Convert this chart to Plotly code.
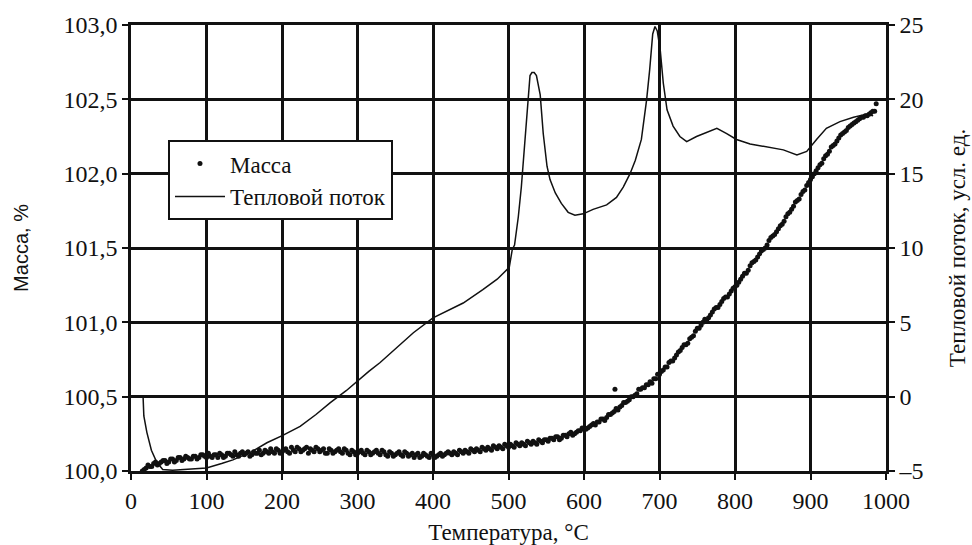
import plotly.graph_objects as go

# Thermogravimetry: mass change (scatter) and heat flow (line) vs temperature

# Mass readings, first pass
temp_mass = [
    15, 20, 25, 30, 35, 40, 45, 50, 55, 60, 65, 70, 75, 80, 85, 90, 95, 100,
    105, 110, 115, 120, 125, 130, 135, 140, 145, 150, 155, 160, 165, 170, 175, 180,
    185, 190, 195, 200, 205, 210, 215, 220, 225, 230, 235, 240, 245, 250, 255, 260,
    265, 270, 275, 280, 285, 290, 295, 300, 305, 310, 315, 320, 325, 330, 335, 340,
    345, 350, 355, 360, 365, 370, 375, 380, 385, 390, 395, 400, 405, 410, 415, 420,
    425, 430, 435, 440, 445, 450, 455, 460, 465, 470, 475, 480, 485, 490, 495, 500,
    505, 510, 515, 520, 525, 530, 535, 540, 545, 550, 555, 560, 565, 570, 575, 580,
    585, 590, 595, 600, 605, 610, 615, 620, 625, 630, 635, 640, 645, 650, 655, 660,
    665, 670, 675, 680, 685, 690, 695, 700, 705, 710, 715, 720, 725, 730, 735, 740,
    745, 750, 755, 760, 765, 770, 775, 780, 785, 790, 795, 800, 805, 810, 815, 820,
    825, 830, 835, 840, 845, 850, 855, 860, 865, 870, 875, 880, 885, 890, 895, 900,
    905, 910, 915, 920, 925, 930, 935, 940, 945, 950, 955, 960, 965, 970, 975, 980,
    985, 641, 987,
]
mass = [
    100.00, 100.02, 100.03, 100.05, 100.04, 100.06, 100.07, 100.06, 100.08, 100.07,
    100.09, 100.08, 100.09, 100.08, 100.10, 100.09, 100.11, 100.09, 100.10, 100.11,
    100.09, 100.11, 100.10, 100.12, 100.10, 100.11, 100.12, 100.11, 100.13, 100.11,
    100.12, 100.14, 100.12, 100.13, 100.15, 100.12, 100.14, 100.13, 100.15, 100.12,
    100.14, 100.16, 100.13, 100.15, 100.12, 100.14, 100.16, 100.13, 100.15, 100.12,
    100.14, 100.13, 100.15, 100.12, 100.14, 100.11, 100.13, 100.12, 100.14, 100.11,
    100.13, 100.12, 100.14, 100.11, 100.13, 100.10, 100.12, 100.11, 100.13, 100.10,
    100.12, 100.11, 100.09, 100.12, 100.10, 100.11, 100.09, 100.11, 100.10, 100.12,
    100.11, 100.13, 100.11, 100.12, 100.14, 100.12, 100.13, 100.15, 100.13, 100.14,
    100.16, 100.14, 100.15, 100.17, 100.15, 100.16, 100.18, 100.16, 100.17, 100.19,
    100.17, 100.18, 100.20, 100.18, 100.19, 100.21, 100.19, 100.21, 100.22, 100.21,
    100.23, 100.22, 100.24, 100.25, 100.24, 100.26, 100.27, 100.28, 100.29, 100.31,
    100.31, 100.33, 100.35, 100.36, 100.38, 100.40, 100.41, 100.44, 100.46, 100.48,
    100.50, 100.52, 100.55, 100.56, 100.58, 100.59, 100.62, 100.65, 100.68, 100.70,
    100.74, 100.76, 100.80, 100.83, 100.85, 100.89, 100.91, 100.96, 100.98, 101.02,
    101.03, 101.07, 101.10, 101.12, 101.16, 101.17, 101.21, 101.24, 101.27, 101.31,
    101.33, 101.38, 101.41, 101.44, 101.48, 101.50, 101.55, 101.58, 101.61, 101.65,
    101.68, 101.73, 101.76, 101.81, 101.83, 101.88, 101.92, 101.96, 102.00, 102.04,
    102.07, 102.12, 102.15, 102.19, 102.22, 102.26, 102.28, 102.31, 102.33, 102.35,
    102.37, 102.38, 102.39, 102.41, 102.42, 100.55, 102.47,
]

# Mass readings, second pass (between the first-pass temperatures)
temp_mass_b = [
    17.5, 22.5, 27.5, 32.5, 37.5, 42.5, 47.5, 52.5, 57.5, 62.5,
    67.5, 72.5, 77.5, 82.5, 87.5, 92.5, 97.5, 102.5, 107.5, 112.5,
    117.5, 122.5, 127.5, 132.5, 137.5, 142.5, 147.5, 152.5, 157.5, 162.5,
    167.5, 172.5, 177.5, 182.5, 187.5, 192.5, 197.5, 202.5, 207.5, 212.5,
    217.5, 222.5, 227.5, 232.5, 237.5, 242.5, 247.5, 252.5, 257.5, 262.5,
    267.5, 272.5, 277.5, 282.5, 287.5, 292.5, 297.5, 302.5, 307.5, 312.5,
    317.5, 322.5, 327.5, 332.5, 337.5, 342.5, 347.5, 352.5, 357.5, 362.5,
    367.5, 372.5, 377.5, 382.5, 387.5, 392.5, 397.5, 402.5, 407.5, 412.5,
    417.5, 422.5, 427.5, 432.5, 437.5, 442.5, 447.5, 452.5, 457.5, 462.5,
    467.5, 472.5, 477.5, 482.5, 487.5, 492.5, 497.5, 502.5, 507.5, 512.5,
    517.5, 522.5, 527.5, 532.5, 537.5, 542.5, 547.5, 552.5, 557.5, 562.5,
    567.5, 572.5, 577.5, 582.5, 587.5, 592.5, 597.5, 602.5, 607.5, 612.5,
    617.5, 622.5, 627.5, 632.5, 637.5, 642.5, 647.5, 652.5, 657.5, 662.5,
    667.5, 672.5, 677.5, 682.5, 687.5, 692.5, 697.5, 702.5, 707.5, 712.5,
    717.5, 722.5, 727.5, 732.5, 737.5, 742.5, 747.5, 752.5, 757.5, 762.5,
    767.5, 772.5, 777.5, 782.5, 787.5, 792.5, 797.5, 802.5, 807.5, 812.5,
    817.5, 822.5, 827.5, 832.5, 837.5, 842.5, 847.5, 852.5, 857.5, 862.5,
    867.5, 872.5, 877.5, 882.5, 887.5, 892.5, 897.5, 902.5, 907.5, 912.5,
    917.5, 922.5, 927.5, 932.5, 937.5, 942.5, 947.5, 952.5, 957.5, 962.5,
    967.5, 972.5, 977.5, 982.5,
]
mass_b = [
    100.01, 100.04, 100.03, 100.06, 100.05, 100.07, 100.05, 100.08, 100.06, 100.09,
    100.07, 100.10, 100.08, 100.10, 100.08, 100.11, 100.10, 100.12, 100.09, 100.11,
    100.12, 100.09, 100.12, 100.11, 100.13, 100.10, 100.13, 100.12, 100.10, 100.13,
    100.12, 100.11, 100.14, 100.12, 100.13, 100.15, 100.12, 100.14, 100.13, 100.16,
    100.13, 100.15, 100.14, 100.16, 100.15, 100.13, 100.15, 100.14, 100.12, 100.15,
    100.12, 100.14, 100.13, 100.15, 100.12, 100.14, 100.11, 100.13, 100.12, 100.14,
    100.11, 100.13, 100.12, 100.14, 100.11, 100.13, 100.10, 100.12, 100.11, 100.13,
    100.10, 100.12, 100.11, 100.09, 100.12, 100.10, 100.12, 100.09, 100.11, 100.10,
    100.12, 100.12, 100.13, 100.11, 100.13, 100.14, 100.12, 100.14, 100.15, 100.13,
    100.15, 100.16, 100.14, 100.16, 100.17, 100.15, 100.17, 100.18, 100.16, 100.18,
    100.19, 100.17, 100.19, 100.20, 100.18, 100.20, 100.21, 100.20, 100.22, 100.23,
    100.21, 100.24, 100.23, 100.26, 100.25, 100.27, 100.29, 100.28, 100.30, 100.32,
    100.33, 100.35, 100.34, 100.38, 100.39, 100.42, 100.43, 100.46, 100.47, 100.50,
    100.51, 100.55, 100.56, 100.58, 100.60, 100.62, 100.65, 100.67, 100.70, 100.73,
    100.74, 100.78, 100.81, 100.85, 100.86, 100.90, 100.94, 100.96, 101.00, 101.01,
    101.05, 101.09, 101.10, 101.14, 101.17, 101.19, 101.23, 101.25, 101.29, 101.33,
    101.35, 101.40, 101.42, 101.46, 101.49, 101.52, 101.57, 101.59, 101.63, 101.66,
    101.71, 101.74, 101.78, 101.82, 101.86, 101.89, 101.94, 101.98, 102.02, 102.06,
    102.10, 102.13, 102.18, 102.20, 102.24, 102.27, 102.29, 102.32, 102.34, 102.36,
    102.38, 102.39, 102.40, 102.42,
]

# Heat flow curve
temp_flow = [
    16, 17, 21, 27, 34, 42, 55, 70, 85, 100, 120, 135, 160, 180, 201, 224, 245,
    264, 285, 301, 315, 330, 352, 374, 400, 420, 440, 466, 485, 501, 505, 508,
    513, 517, 522, 526, 528.5, 531, 534, 537, 542, 546, 551, 555, 562, 570, 579,
    588, 599, 612, 630, 643, 652, 661, 668, 676, 683, 687, 691, 694, 697, 701,
    705, 710, 718, 727, 736, 749, 763, 776, 789, 802, 820, 842, 864, 882, 895,
    908, 921, 939, 957, 974, 983,
]
heat_flow = [
    0.0, -1.3, -2.4, -3.6, -4.4, -4.9, -4.95, -4.9, -4.85, -4.8, -4.5, -4.25,
    -3.7, -3.1, -2.6, -2.0, -1.2, -0.4, 0.4, 1.1, 1.7, 2.3, 3.3, 4.3, 5.3, 5.8,
    6.3, 7.2, 7.9, 8.7, 9.9, 10.2, 12.1, 14.1, 17.3, 20.4, 21.6, 21.8, 21.8, 21.6,
    20.3, 17.7, 15.5, 14.6, 13.7, 13.0, 12.4, 12.2, 12.3, 12.6, 12.9, 13.4, 14.1,
    15.0, 15.9, 17.3, 20.0, 22.0, 24.4, 24.9, 24.6, 23.3, 21.1, 19.3, 18.2, 17.5,
    17.15, 17.5, 17.8, 18.05, 17.7, 17.3, 17.0, 16.8, 16.6, 16.26, 16.5, 17.3,
    18.05, 18.5, 18.8, 19.0, 18.9,
]

assert len(temp_mass) == len(mass)
assert len(temp_mass_b) == len(mass_b)
assert len(temp_flow) == len(heat_flow)

x_ticks = [0, 100, 200, 300, 400, 500, 600, 700, 800, 900, 1000]
mass_ticks = [100.0, 100.5, 101.0, 101.5, 102.0, 102.5, 103.0]
mass_tick_text = ["100,0", "100,5", "101,0", "101,5", "102,0", "102,5", "103,0"]
flow_ticks = [-5, 0, 5, 10, 15, 20, 25]
flow_tick_text = ["\u20135", "0", "5", "10", "15", "20", "25"]

INK = "#111111"
SERIF = "Liberation Serif"
SANS = "Liberation Sans"

fig = go.Figure()
fig.add_trace(go.Scatter(
    x=temp_mass + temp_mass_b, y=mass + mass_b, mode="markers", name="Масса",
    marker=dict(color=INK, size=5, symbol="circle"),
    yaxis="y",
))
fig.add_trace(go.Scatter(
    x=temp_flow, y=heat_flow, mode="lines", name="Тепловой поток",
    line=dict(color=INK, width=1.5),
    yaxis="y2",
))

axis_common = dict(
    showline=True, linecolor=INK, linewidth=2.5,
    ticks="outside", ticklen=6, tickwidth=2, tickcolor=INK,
    tickfont=dict(family=SERIF, size=24, color=INK),
    zeroline=False, automargin=False,
)

fig.update_layout(
    width=972, height=545,
    margin=dict(l=131, r=86, t=25, b=74),
    paper_bgcolor="white", plot_bgcolor="white",
    font=dict(family=SERIF, color=INK),
    xaxis=dict(
        range=[0, 1000], tickvals=x_ticks, mirror=True,
        showgrid=True, gridcolor=INK, gridwidth=2.5,
        title=dict(text="Температура, °C", font=dict(family=SERIF, size=23, color=INK), standoff=12),
        **axis_common,
    ),
    yaxis=dict(
        range=[100, 103], tickvals=mass_ticks, ticktext=mass_tick_text, mirror=True,
        showgrid=True, gridcolor=INK, gridwidth=2.5,
        title=dict(text="Масса, %", font=dict(family=SANS, size=20, color=INK), standoff=30),
        **axis_common,
    ),
    yaxis2=dict(
        range=[-5, 25], tickvals=flow_ticks, ticktext=flow_tick_text,
        overlaying="y", side="right", showgrid=False,
        title=dict(text="Тепловой поток, усл. ед.", font=dict(family=SERIF, size=23, color=INK), standoff=27),
        **axis_common,
    ),
    legend=dict(
        x=0.049, y=0.742, xanchor="left", yanchor="top",
        bgcolor="white", bordercolor=INK, borderwidth=2,
        font=dict(family=SERIF, size=23, color=INK),
        tracegroupgap=0, itemwidth=50,
    ),
    showlegend=True,
)

fig.write_html("out.html")
